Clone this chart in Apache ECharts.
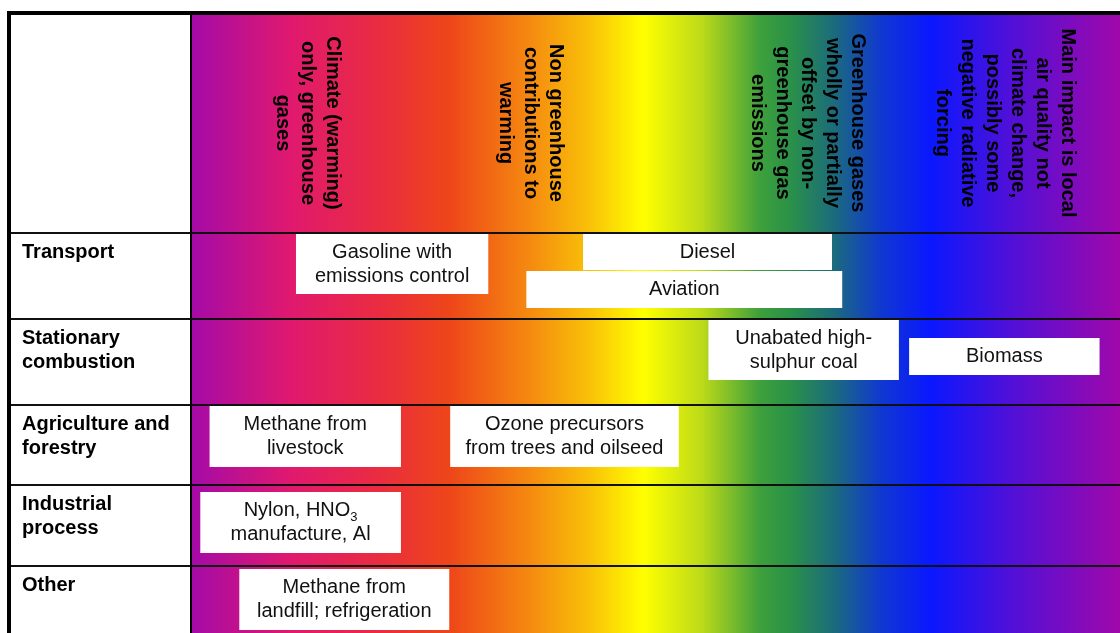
<!DOCTYPE html>
<html>
<head>
<meta charset="utf-8">
<script src="https://cdn.jsdelivr.net/npm/echarts@6/dist/echarts.min.js"></script>
<style>
html, body { margin: 0; padding: 0; background: #ffffff; }
#chart { width: 1120px; height: 633px; }
</style>
</head>
<body>
<div id="chart"></div>
<script>
// ---- Data -------------------------------------------------------------
// Impact scale (x axis, 0 = left end of the spectrum, 100 = right end)
const impactColumns = [
  'Climate (warming)\nonly, greenhouse\ngases',
  'Non greenhouse\ncontributions to\nwarming',
  'Greenhouse gases\nwholly or partially\noffset by non-\ngreenhouse gas\nemissions',
  'Main impact is local\nair quality not\nclimate change,\npossibly some\nnegative radiative\nforcing'
];
const impactColumnCentres = [12.5, 36.6, 66.4, 87.6];
const headerMiddle = 109;

// Sectors (rows) and where each row starts on the vertical scale
const sectors = ['Transport', 'Stationary\ncombustion', 'Agriculture and\nforestry', 'Industrial\nprocess', 'Other'];
const sectorStart = [219, 305, 391, 471, 552];
const scaleEnd = 619;

// Emission sources placed on the impact scale
const sources = [
  'Gasoline with\nemissions control',
  'Diesel',
  'Aviation',
  'Unabated high-\nsulphur coal',
  'Biomass',
  'Methane from\nlivestock',
  'Ozone precursors\nfrom trees and oilseed',
  'Nylon, HNO{sub|3}\nmanufacture, Al',
  'Methane from\nlandfill; refrigeration'
];
const sourceFrom   = [11.3, 42.2, 36.1, 55.7, 77.3,  2.0, 27.9,  1.0,  5.2];
const sourceTo     = [32.0, 69.0, 70.1, 76.2, 97.8, 22.6, 52.5, 22.6, 27.8];
const sourceTop    = [220, 220, 257, 306, 324, 392, 392, 478, 555];
const sourceBottom = [280, 256, 294, 366, 361, 453, 453, 539, 616];

// Spectrum colours along the impact scale
const spectrumAt = [0, 10.7, 20.3, 27.9, 36.5, 43, 48.7, 54.9, 61.2, 64.5, 68.9, 74.3, 79.6, 88.2, 100];
const spectrumColours = ['#a40aa8', '#e0196f', '#ea2c40', '#ee4619', '#f58a10', '#f9c208', '#ffff00',
  '#bedb18', '#3ea03c', '#2a9148', '#1c6e78', '#1038d0', '#0a18ff', '#5010d8', '#a008aa'];

// ---- Chart ------------------------------------------------------------
const FONT = '"Liberation Sans", Arial, Helvetica, sans-serif';
const chart = echarts.init(document.getElementById('chart'), null, { renderer: 'canvas' });

function spectrumItem(params, api) {
  const p0 = api.coord([0, 0]);
  const p1 = api.coord([100, scaleEnd]);
  const stops = spectrumAt.map((v, i) => ({ offset: v / 100, color: spectrumColours[i] }));
  return {
    type: 'rect',
    shape: { x: p0[0], y: p0[1], width: p1[0] - p0[0], height: p1[1] - p0[1] + 20 },
    style: { fill: new echarts.graphic.LinearGradient(0, 0, 1, 0, stops) }
  };
}

function frameItem(params, api) {
  const p0 = api.coord([0, 0]);
  const p1 = api.coord([100, scaleEnd]);
  const left = p0[0] - 184;
  return {
    type: 'group',
    children: [
      { type: 'rect', shape: { x: left, y: p0[1] - 3, width: p1[0] - left, height: 4 }, style: { fill: '#000' } },
      { type: 'rect', shape: { x: left, y: p0[1] - 3, width: 4, height: p1[1] - p0[1] + 30 }, style: { fill: '#000' } },
      { type: 'rect', shape: { x: p0[0] - 1, y: p0[1] - 3, width: 2, height: p1[1] - p0[1] + 30 }, style: { fill: '#000' } }
    ]
  };
}

function rowLineItem(params, api) {
  const y = api.coord([0, api.value(0)])[1];
  const x0 = api.coord([0, 0])[0] - 183;
  const x1 = api.coord([100, 0])[0];
  return {
    type: 'rect',
    shape: { x: x0, y: y - 1, width: x1 - x0, height: 2 },
    style: { fill: '#111' }
  };
}

function rowLabelItem(params, api) {
  const p = api.coord([0, api.value(0)]);
  return {
    type: 'text',
    x: p[0] - 169,
    y: p[1] + 7,
    style: {
      text: sectors[params.dataIndex],
      fontFamily: FONT, fontSize: 20, fontWeight: 'bold',
      lineHeight: 24, fill: '#000', align: 'left', verticalAlign: 'top'
    }
  };
}

function headerItem(params, api) {
  const p = api.coord([api.value(0), headerMiddle]);
  return {
    type: 'text',
    x: p[0],
    y: p[1],
    rotation: -Math.PI / 2,
    style: {
      text: impactColumns[params.dataIndex],
      fontFamily: FONT, fontSize: 20, fontWeight: 'bold',
      lineHeight: 25, fill: '#000', align: 'center', verticalAlign: 'middle',
      textShadowColor: 'rgba(255,255,255,0.55)', textShadowBlur: 0,
      textShadowOffsetX: -0.8, textShadowOffsetY: 0.5
    }
  };
}

function sourceItem(params, api) {
  const p0 = api.coord([api.value(0), api.value(2)]);
  const p1 = api.coord([api.value(1), api.value(3)]);
  return {
    type: 'rect',
    shape: { x: p0[0], y: p0[1], width: p1[0] - p0[0], height: p1[1] - p0[1] },
    style: { fill: '#ffffff' },
    textContent: {
      style: {
        text: sources[params.dataIndex],
        fontFamily: FONT, fontSize: 20, lineHeight: 24,
        fill: '#111', align: 'center', verticalAlign: 'middle',
        rich: {
          sub: { fontFamily: FONT, fontSize: 13, lineHeight: 8, padding: [12, 0, 0, 0], verticalAlign: 'top', fill: '#111' }
        }
      }
    },
    textConfig: { position: 'inside' }
  };
}

const option = {
  animation: false,
  backgroundColor: '#ffffff',
  grid: { left: 191, right: 0, top: 14, bottom: 0, containLabel: false },
  xAxis: { type: 'value', min: 0, max: 100, show: false },
  yAxis: { type: 'value', min: 0, max: scaleEnd, inverse: true, show: false },
  series: [
    { type: 'custom', name: 'spectrum', clip: false, silent: true, renderItem: spectrumItem, data: [[0, 0]], z: 1 },
    { type: 'custom', name: 'rows', clip: false, silent: true, renderItem: rowLineItem, data: sectorStart.map(v => [v]), z: 2 },
    { type: 'custom', name: 'frame', clip: false, silent: true, renderItem: frameItem, data: [[0, 0]], z: 3 },
    { type: 'custom', name: 'headers', clip: false, silent: true, renderItem: headerItem, data: impactColumnCentres.map(v => [v]), z: 4 },
    { type: 'custom', name: 'sectors', clip: false, silent: true, renderItem: rowLabelItem, data: sectorStart.map(v => [v]), z: 4 },
    {
      type: 'custom', name: 'sources', clip: false, silent: true, renderItem: sourceItem, z: 5,
      data: sources.map((s, i) => [sourceFrom[i], sourceTo[i], sourceTop[i], sourceBottom[i]])
    }
  ]
};
chart.setOption(option);
</script>
</body>
</html>
